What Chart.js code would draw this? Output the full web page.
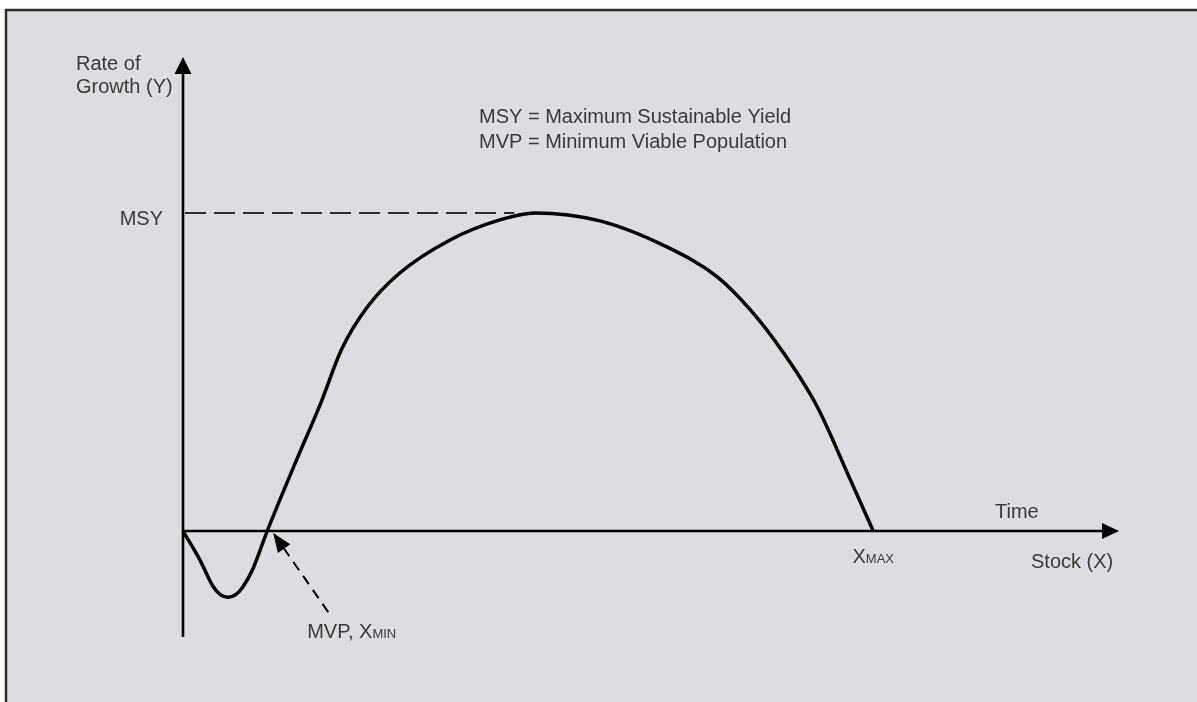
<!DOCTYPE html>
<html>
<head>
<meta charset="utf-8">
<script src="https://cdn.jsdelivr.net/npm/chart.js@4.4.1/dist/chart.umd.min.js"></script>
<style>
  html, body { margin: 0; padding: 0; background: #ffffff; }
  #wrap { width: 1197px; height: 702px; position: relative; }
</style>
</head>
<body>
<div id="wrap"><canvas id="c" width="1197" height="702"></canvas></div>
<script>
// ---- Data (Stock X in % of X_MAX, Growth Y in % of MSY) ----
const stockX  = [0, 2.5, 4.3, 5.4, 6.5, 7.6, 8.6, 10.1, 12.2, 16.5, 19.9, 23.0, 26.7, 31.4, 38.7, 45.9, 51.0, 60.4, 70.1, 77.4, 82.2, 87.0, 91.9, 96.7, 100];
const growthY = [0, -9.3, -17.2, -20.0, -20.8, -20.0, -17.8, -12.0, 0, 22.6, 39.9, 57.2, 70.4, 81.1, 91.5, 97.8, 100, 97.5, 89.3, 79.9, 69.5, 56.0, 39.0, 16.0, 0];

// key values
const msyValue  = 100;   // Maximum Sustainable Yield
const msyStock  = 48;    // stock where dashed MSY line meets the curve
const xMinValue = 12.2;  // MVP, X_MIN
const xMaxValue = 100;   // X_MAX

// axis extents (arrow tips)
const xAxisRange = [0, 135.6];
const yAxisRange = [-33.3, 149];

// texts
const yTitleLines = ["Rate of", "Growth (Y)"];
const xTitleTop = "Time";
const xTitleBottom = "Stock (X)";
const msyLabel = "MSY";
const xMaxLabel = ["X", "MAX"];
const mvpLabel = ["MVP, X", "MIN"];
const legendLines = ["MSY = Maximum Sustainable Yield", "MVP = Minimum Viable Population"];

const points = stockX.map((x, i) => ({ x: x, y: growthY[i] }));

const TXT = '#3a3a3a';
const FONT = '"Liberation Sans", Arial, sans-serif';

const bgPlugin = {
  id: 'bg',
  beforeDraw(chart) {
    const ctx = chart.ctx;
    ctx.save();
    ctx.fillStyle = '#ffffff';
    ctx.fillRect(0, 0, chart.width, chart.height);
    ctx.fillStyle = '#dcdde0';
    ctx.fillRect(6, 10, chart.width + 10, chart.height + 10);
    ctx.strokeStyle = '#2b2b2b';
    ctx.lineWidth = 2.5;
    ctx.strokeRect(6, 10, chart.width + 10, chart.height + 10);
    ctx.restore();
  }
};

function arrowHead(ctx, tipX, tipY, dirX, dirY, len, half) {
  const bx = tipX - dirX * len, by = tipY - dirY * len;
  const px = -dirY, py = dirX;
  ctx.beginPath();
  ctx.moveTo(tipX, tipY);
  ctx.lineTo(bx + px * half, by + py * half);
  ctx.lineTo(bx - px * half, by - py * half);
  ctx.closePath();
  ctx.fill();
}

const axesPlugin = {
  id: 'axesDraw',
  beforeDatasetsDraw(chart) {
    const ctx = chart.ctx;
    const xs = chart.scales.x, ys = chart.scales.y;
    const x0 = xs.getPixelForValue(0), y0 = ys.getPixelForValue(0);
    const xEnd = xs.getPixelForValue(xAxisRange[1]);
    const yTop = ys.getPixelForValue(yAxisRange[1]);
    const yBot = ys.getPixelForValue(yAxisRange[0]);
    ctx.save();
    ctx.strokeStyle = '#000';
    ctx.fillStyle = '#000';
    ctx.lineWidth = 2.6;
    // y axis
    ctx.beginPath();
    ctx.moveTo(x0, yBot);
    ctx.lineTo(x0, yTop + 14);
    ctx.stroke();
    arrowHead(ctx, x0, yTop, 0, -1, 17, 8.5);
    // x axis
    ctx.beginPath();
    ctx.moveTo(x0, y0);
    ctx.lineTo(xEnd - 14, y0);
    ctx.stroke();
    arrowHead(ctx, xEnd, y0, 1, 0, 17, 8);
    // MSY dashed line
    const yMsy = ys.getPixelForValue(msyValue);
    ctx.strokeStyle = '#2e2e2e';
    ctx.lineWidth = 2;
    ctx.setLineDash([21, 8]);
    ctx.beginPath();
    ctx.moveTo(x0 + 2, yMsy);
    ctx.lineTo(xs.getPixelForValue(msyStock), yMsy);
    ctx.stroke();
    ctx.restore();
  },
  afterDatasetsDraw(chart) {
    const ctx = chart.ctx;
    const xs = chart.scales.x, ys = chart.scales.y;
    const x0 = xs.getPixelForValue(0), y0 = ys.getPixelForValue(0);
    ctx.save();
    ctx.fillStyle = TXT;
    ctx.textBaseline = 'alphabetic';
    ctx.font = '20px ' + FONT;
    // y title
    ctx.textAlign = 'left';
    ctx.fillText(yTitleLines[0], x0 - 107, 70);
    ctx.fillText(yTitleLines[1], x0 - 107, 93);
    // legend text
    ctx.fillText(legendLines[0], 479, 123);
    ctx.fillText(legendLines[1], 479, 148);
    // MSY tick label
    ctx.textAlign = 'right';
    ctx.fillText(msyLabel, x0 - 20, ys.getPixelForValue(msyValue) + 12);
    // x titles
    ctx.textAlign = 'left';
    ctx.fillText(xTitleTop, 995, y0 - 13);
    ctx.fillText(xTitleBottom, 1031, y0 + 37);
    // X_MAX label
    const xm = xs.getPixelForValue(xMaxValue);
    ctx.font = '20px ' + FONT;
    const w1 = ctx.measureText(xMaxLabel[0]).width;
    ctx.font = '13px ' + FONT;
    const w2 = ctx.measureText(xMaxLabel[1]).width;
    const sx = xm - (w1 + w2) / 2;
    ctx.font = '20px ' + FONT;
    ctx.fillText(xMaxLabel[0], sx, y0 + 32);
    ctx.font = '13px ' + FONT;
    ctx.fillText(xMaxLabel[1], sx + w1, y0 + 32);
    // MVP arrow
    const xmin = xs.getPixelForValue(xMinValue);
    const tipX = xmin + 6, tipY = y0 + 2;
    const tailX = tipX + 55, tailY = tipY + 79;
    const L = Math.hypot(tailX - tipX, tailY - tipY);
    const ux = (tipX - tailX) / L, uy = (tipY - tailY) / L;
    ctx.strokeStyle = '#000';
    ctx.fillStyle = '#000';
    ctx.lineWidth = 2;
    ctx.setLineDash([10, 7]);
    ctx.beginPath();
    ctx.moveTo(tailX, tailY);
    ctx.lineTo(tipX - ux * 16, tipY - uy * 16);
    ctx.stroke();
    ctx.setLineDash([]);
    arrowHead(ctx, tipX, tipY, ux, uy, 19, 7.5);
    // MVP label
    ctx.fillStyle = TXT;
    ctx.font = '20px ' + FONT;
    ctx.textAlign = 'left';
    const mvpX = xmin + 40, mvpY = y0 + 107;
    ctx.fillText(mvpLabel[0], mvpX, mvpY);
    const mw = ctx.measureText(mvpLabel[0]).width;
    ctx.font = '13px ' + FONT;
    ctx.fillText(mvpLabel[1], mvpX + mw, mvpY);
    ctx.restore();
  }
};

new Chart(document.getElementById('c'), {
  type: 'scatter',
  data: {
    datasets: [{
      data: points,
      showLine: true,
      borderColor: '#000',
      borderWidth: 3.5,
      pointRadius: 0,
      pointHoverRadius: 0,
      cubicInterpolationMode: 'monotone',
      fill: false,
      clip: false
    }]
  },
  options: {
    responsive: false,
    animation: false,
    events: [],
    layout: { padding: { left: 183, right: 78, top: 57, bottom: 65 } },
    plugins: { legend: { display: false }, tooltip: { enabled: false } },
    scales: {
      x: { type: 'linear', display: false, min: xAxisRange[0], max: xAxisRange[1] },
      y: { type: 'linear', display: false, min: yAxisRange[0], max: yAxisRange[1] }
    }
  },
  plugins: [bgPlugin, axesPlugin]
});
</script>
</body>
</html>
